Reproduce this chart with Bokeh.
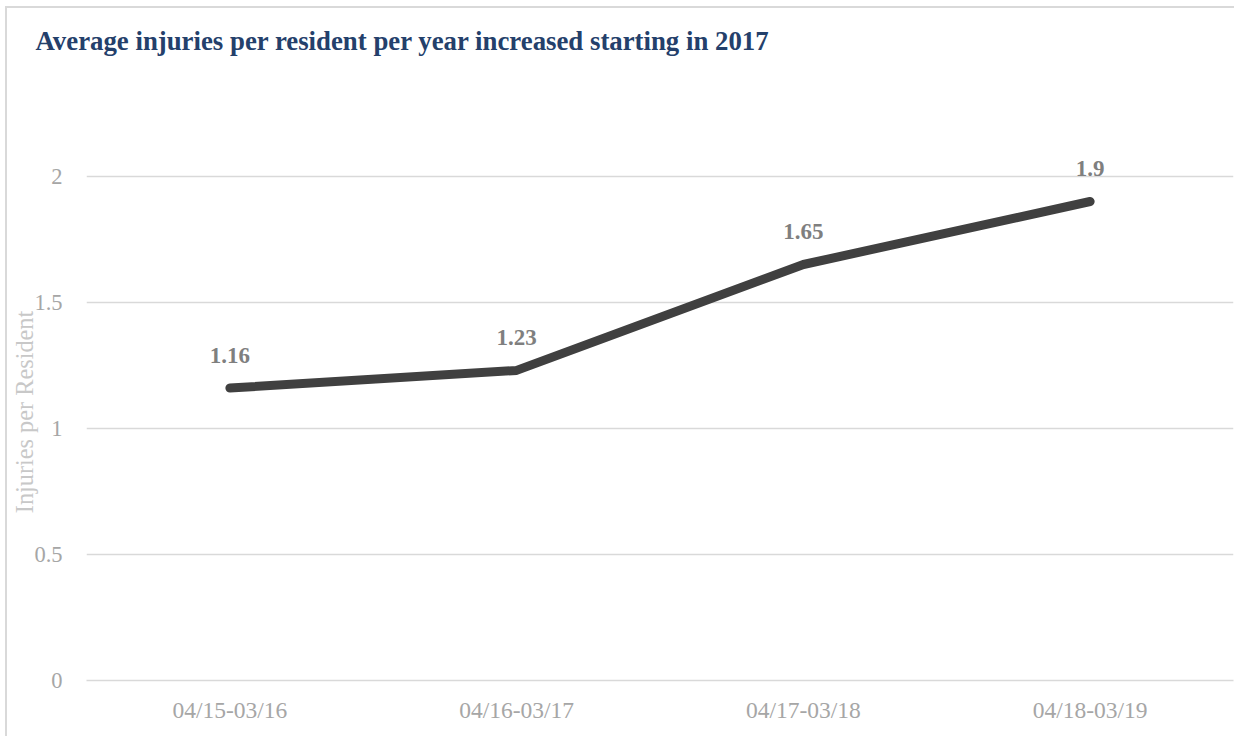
from bokeh.plotting import figure
from bokeh.models import FactorRange, Range1d, FixedTicker, ColumnDataSource, Title
from bokeh.core.properties import value
from bokeh.embed import file_html
from bokeh.resources import INLINE

periods = ["04/15-03/16", "04/16-03/17", "04/17-03/18", "04/18-03/19"]
injuries = [1.16, 1.23, 1.65, 1.9]
labels = ["1.16", "1.23", "1.65", "1.9"]
y_ticks = [0, 0.5, 1, 1.5, 2]

FONT = "Liberation Serif"

src = ColumnDataSource(data=dict(x=periods, y=injuries, lab=labels))

p = figure(
    width=1229, height=730,
    x_range=FactorRange(*periods, range_padding=0),
    y_range=Range1d(0, 2.13),
    output_backend="svg", toolbar_location=None,
    min_border_left=79, min_border_right=3, min_border_top=134, min_border_bottom=58,
)
p.styles = {"border-top": "2px solid #d9d9d9", "border-left": "2px solid #d9d9d9",
            "margin-left": "5px", "margin-top": "6px"}
p.outline_line_color = None
p.background_fill_color = "white"
p.border_fill_color = "white"

p.title.text = "Average injuries per resident per year increased starting in 2017"
p.title.text_font = FONT
p.title.text_font_size = "26.8px"
p.title.text_font_style = "bold"
p.title.text_color = "#24406b"
p.title.align = "left"
p.title.offset = -51
p.title.standoff = 30

spacer = Title(text=" ", text_font_size="10px", standoff=60)
p.add_layout(spacer, "above")

p.xgrid.visible = False
p.ygrid.grid_line_color = "#d9d9d9"
p.ygrid.grid_line_width = 1.5
p.yaxis.ticker = FixedTicker(ticks=y_ticks)

p.yaxis.axis_line_color = None
p.yaxis.major_tick_line_color = None
p.yaxis.minor_tick_line_color = None
p.yaxis.major_tick_out = 0
p.yaxis.major_label_standoff = 24
p.yaxis.major_label_text_font = FONT
p.yaxis.major_label_text_font_size = "22.5px"
p.yaxis.major_label_text_color = "#a6a6a6"
p.yaxis.axis_label = "Injuries per Resident"
p.yaxis.axis_label_text_font = FONT
p.yaxis.axis_label_text_font_size = "24.3px"
p.yaxis.axis_label_text_font_style = "normal"
p.yaxis.axis_label_text_color = "#c8c8c8"
p.yaxis.axis_label_standoff = -7

p.xaxis.axis_line_color = "#d9d9d9"
p.xaxis.axis_line_width = 1.5
p.xaxis.major_tick_line_color = None
p.xaxis.minor_tick_line_color = None
p.xaxis.major_tick_out = 0
p.xaxis.major_label_standoff = 16
p.xaxis.major_label_text_font = FONT
p.xaxis.major_label_text_font_size = "23.5px"
p.xaxis.major_label_text_color = "#a6a6a6"

p.line("x", "y", source=src, line_color="#404040", line_width=9,
       line_cap="round", line_join="round")
p.text("x", "y", text="lab", source=src, text_font=value(FONT),
       text_font_size="23px", text_font_style="bold", text_color="#7f7f7f",
       text_align="center", text_baseline="alphabetic", y_offset=-33)

open("out.html", "w").write(file_html(p, INLINE))
